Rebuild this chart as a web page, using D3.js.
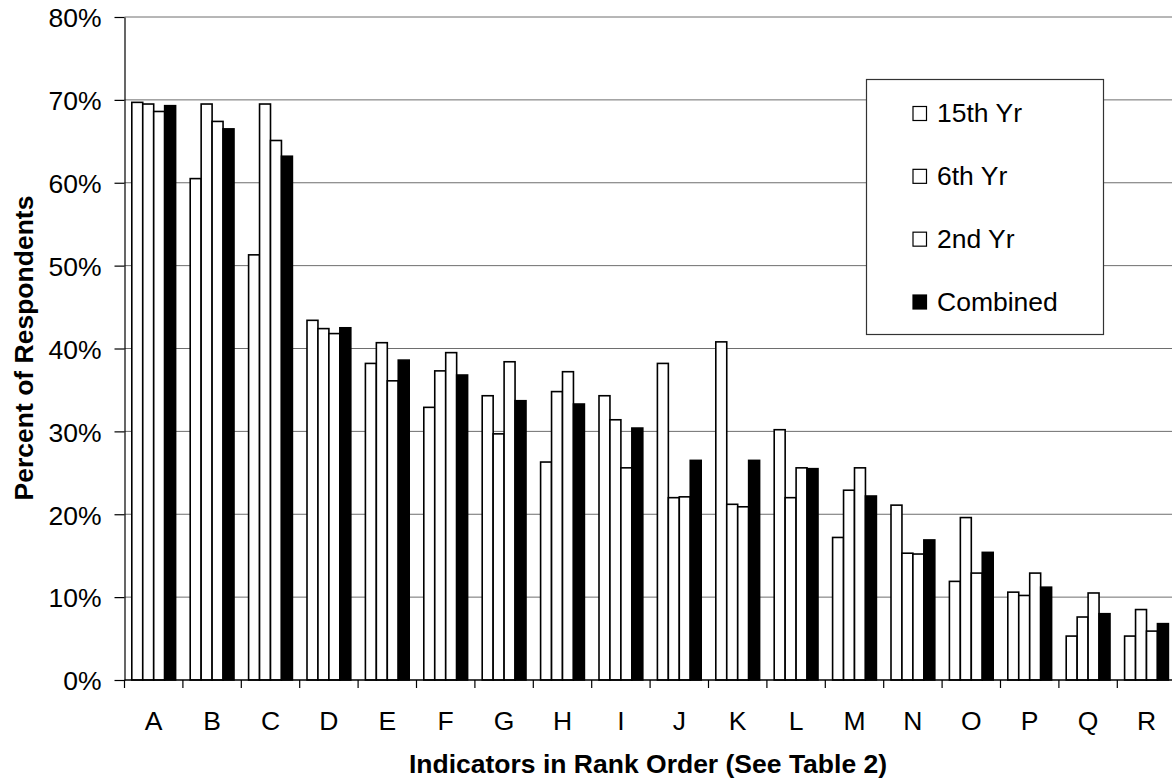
<!DOCTYPE html>
<html><head><meta charset="utf-8">
<script src="https://cdn.jsdelivr.net/npm/d3@7"></script>
<style>body{margin:0;background:#fff;} svg{display:block;font-family:"Liberation Sans",Arial,sans-serif;}</style>
</head><body>
<svg id="c" width="1172" height="783"></svg>
<script>
const categories = ["A","B","C","D","E","F","G","H","I","J","K","L","M","N","O","P","Q","R"];
const seriesNames = ["15th Yr","6th Yr","2nd Yr","Combined"];
const yr15 = [69.7,60.5,51.3,43.4,38.2,32.9,34.3,26.3,34.3,38.2,40.8,30.2,17.2,21.1,11.9,10.6,5.3,5.3];
const yr6 = [69.5,69.5,69.5,42.4,40.7,37.3,29.7,34.8,31.4,22.0,21.2,22.0,22.9,15.3,19.6,10.2,7.6,8.5];
const yr2 = [68.6,67.4,65.1,41.8,36.1,39.5,38.4,37.2,25.6,22.1,20.9,25.6,25.6,15.2,12.9,12.9,10.5,5.9];
const combined = [69.3,66.5,63.2,42.5,38.6,36.8,33.7,33.3,30.4,26.5,26.5,25.5,22.2,16.9,15.4,11.2,8.0,6.8];
const yTicks = [0,10,20,30,40,50,60,70,80];
const fills = ["#fff","#fff","#fff","#000"];
const allSeries = [yr15, yr6, yr2, combined];

(function(){
const FS = 26.5;
const svg = d3.select("#c");
const pL = 124.5, pR = 1175.7, pT = 17, pB = 680;
const x = d3.scaleBand().domain(categories).range([pL, pR]).paddingInner(0.25).paddingOuter(0.125);
const xs = d3.scaleBand().domain(d3.range(4)).range([0, x.bandwidth()]);
const y = d3.scaleLinear().domain([0, 80]).range([pB, pT]);

// gridlines
svg.append("g").selectAll("line").data(yTicks.filter(d => d > 0)).join("line")
  .attr("x1", pL).attr("x2", 1172).attr("y1", d => y(d)).attr("y2", d => y(d))
  .attr("stroke", "#6e6e6e").attr("stroke-width", 1);

// bars
const g = svg.append("g");
allSeries.forEach((vals, si) => {
  g.append("g").selectAll("rect").data(vals).join("rect")
    .attr("x", (d, i) => x(categories[i]) + xs(si))
    .attr("y", d => y(d))
    .attr("width", xs.bandwidth())
    .attr("height", d => y(0) - y(d))
    .attr("fill", fills[si]).attr("stroke", "#000").attr("stroke-width", 1.6);
});

// y axis
const yAxis = d3.axisLeft(y).tickValues(yTicks).tickFormat(d => d + "%").tickSize(10).tickSizeOuter(0).tickPadding(13);
const ya = svg.append("g").attr("transform", `translate(${pL},0)`).call(yAxis);
ya.select(".domain").attr("stroke", "#000").attr("stroke-width", 1.2);
ya.selectAll(".tick line").attr("stroke", "#000").attr("stroke-width", 1.2);
ya.selectAll("text").attr("font-size", FS).attr("fill", "#000").attr("dy", "0.37em")
  .attr("font-family", "Liberation Sans, Arial, sans-serif");

// x axis
svg.append("line").attr("x1", pL).attr("x2", 1172).attr("y1", pB).attr("y2", pB).attr("stroke", "#000").attr("stroke-width", 1.5);
const bounds = d3.range(categories.length + 1).map(i => pL + i * x.step());
svg.append("g").selectAll("line").data(bounds).join("line")
  .attr("x1", d => d).attr("x2", d => d).attr("y1", pB).attr("y2", pB + 8)
  .attr("stroke", "#000").attr("stroke-width", 1.2);
const xAxis = d3.axisBottom(x).tickSize(0).tickPadding(0);
const xa = svg.append("g").attr("transform", `translate(0,${pB})`).call(xAxis);
xa.select(".domain").remove();
xa.selectAll("text").attr("font-size", FS).attr("fill", "#000").attr("y", 49.5).attr("dy", null)
  .attr("font-family", "Liberation Sans, Arial, sans-serif");

// titles
svg.append("text").attr("x", 648).attr("y", 773).attr("text-anchor", "middle")
  .attr("font-size", FS).attr("font-weight", "bold").text("Indicators in Rank Order (See Table 2)");
svg.append("text").attr("transform", "translate(33,348) rotate(-90)").attr("text-anchor", "middle")
  .attr("font-size", FS).attr("font-weight", "bold").text("Percent of Respondents");

// legend
const lg = svg.append("g");
lg.append("rect").attr("x", 866.5).attr("y", 79.5).attr("width", 237).attr("height", 255)
  .attr("fill", "#fff").attr("stroke", "#333").attr("stroke-width", 1.2);
const ly = d3.scalePoint().domain(seriesNames).range([113.5, 302]);
seriesNames.forEach((s, i) => {
  lg.append("rect").attr("x", 913).attr("y", ly(s) - 7).attr("width", 13.5).attr("height", 14)
    .attr("fill", fills[i]).attr("stroke", "#000").attr("stroke-width", 1.2);
  lg.append("text").attr("x", 937).attr("y", ly(s) + 8.5)
    .attr("font-size", FS).text(s);
});
})();
</script>
</body></html>
